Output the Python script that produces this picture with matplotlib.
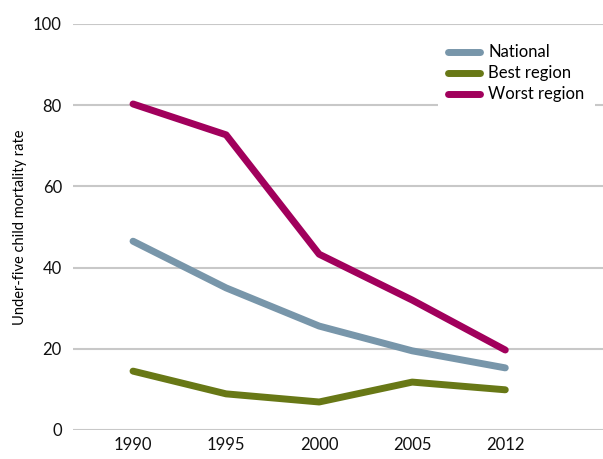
import matplotlib.pyplot as plt

years = ["1990", "1995", "2000", "2005", "2012"]
national = [46.5, 35.0, 25.6, 19.5, 15.3]
best_region = [14.5, 8.9, 6.9, 11.8, 9.9]
worst_region = [80.3, 72.7, 43.3, 32.0, 19.7]

plt.rcParams['font.family'] = ['Lato', 'DejaVu Sans']

fig = plt.figure(figsize=(6.03, 4.59), dpi=100)
ax = fig.add_axes([73 / 603, 29 / 459, 530 / 603, 406 / 459])

x = list(range(len(years)))
ax.plot(x, national, color='#7896aa', lw=5, solid_capstyle='round', label='National', zorder=3)
ax.plot(x, best_region, color='#687816', lw=5, solid_capstyle='round', label='Best region', zorder=3)
ax.plot(x, worst_region, color='#a1005c', lw=5, solid_capstyle='round', label='Worst region', zorder=3)

ax.set_ylim(0, 100)
ax.set_xlim(-0.645, 5.05)
ax.set_yticks([0, 20, 40, 60, 80, 100])
ax.set_xticks(x)
ax.set_xticklabels(years)
ax.yaxis.grid(True, color='#c8c8c8', lw=1.5)
ax.set_axisbelow(True)
for s in ax.spines.values():
    s.set_visible(False)
ax.tick_params(length=0, labelsize=12, colors='#111111', pad=8)
ax.tick_params(axis='x', pad=5)
ax.set_ylabel("Under-five child mortality rate", fontsize=10.5, labelpad=4)

leg = ax.legend(loc='upper right', bbox_to_anchor=(1.0, 0.995), frameon=True, fontsize=12,
                handlelength=1.9, handletextpad=0.5, labelspacing=0.3, borderpad=0.6)
leg.get_frame().set_facecolor('white')
leg.get_frame().set_edgecolor('none')
leg.get_frame().set_alpha(1)
leg.get_frame().set_boxstyle('square', pad=0)

fig.savefig("out.png", dpi=100)
